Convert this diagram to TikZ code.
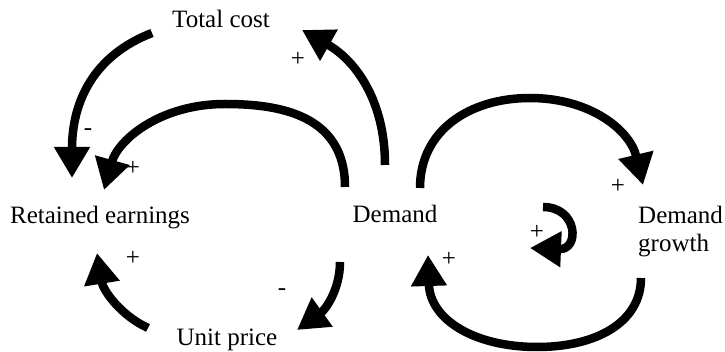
\documentclass[tikz,border=0pt]{standalone}
\usepackage{fontspec}
\setmainfont{Liberation Serif}
\usetikzlibrary{arrows.meta}
\tikzset{
  lbl/.style={inner sep=0pt, font=\fontsize{25}{28}\selectfont},
  sgn/.style={inner sep=0pt, anchor=base, font=\fontsize{25}{28}\selectfont},
  link/.style={line width=8.5pt, -{Triangle[length=31pt,width=34pt]}}
}
\begin{document}
\begin{tikzpicture}[x=1pt,y=-1pt]
\useasboundingbox (0,0) rectangle (725,352);
% variables
\node[lbl, anchor=base] (tc) at (221,28) {Total cost};
\node[lbl, anchor=base] (re) at (100,224) {Retained earnings};
\node[lbl, anchor=base] (dm) at (395,223) {Demand};
\node[lbl, anchor=base] (up) at (227,345) {Unit price};
\node[lbl, anchor=north west, align=left] (dg) at (638,205.5) {Demand\\growth};
% connector end points
\coordinate (tcA) at (152,33);   \coordinate (reA) at (72,178);
\coordinate (dmA) at (385,165);  \coordinate (tcB) at (302,30);
\coordinate (dmB) at (345,187);  \coordinate (reB) at (104,190);
\coordinate (upA) at (148,328);  \coordinate (reC) at (97,253);
\coordinate (dmC) at (340,262);  \coordinate (upB) at (297,330);
\coordinate (dmD) at (420,188);  \coordinate (dgA) at (643,185);
\coordinate (dgB) at (641,278);  \coordinate (dmE) at (428,255);
\coordinate (dgC) at (543,207);  \coordinate (dgD) at (530,248);
% connectors
\draw[link] (tcA) .. controls (95,55) and (72,100) .. (reA);
\draw[link] (dmA) .. controls (385,100) and (355,60) .. (tcB);
\draw[link] (dmB) .. controls (345,115) and (280,104) .. (225,104) .. controls (160,104) and (118,140) .. (reB);
\draw[link] (upA) .. controls (120,315) and (103,290) .. (reC);
\draw[link] (dmC) .. controls (340,290) and (325,310) .. (upB);
\draw[link] (dmD) .. controls (420,130) and (470,98) .. (530,98) .. controls (590,98) and (630,130) .. (dgA);
\draw[link] (dgB) .. controls (641,322) and (597,347) .. (537,347) .. controls (475,347) and (430,320) .. (dmE);
\draw[link] (dgC) .. controls (578,207) and (580,250) .. (dgD);
% polarity signs
\node[sgn] (s1) at (88,135.5) {-};
\node[sgn] (s2) at (298,67) {+};
\node[sgn] (s3) at (133,176) {+};
\node[sgn] (s4) at (133,266) {+};
\node[sgn] (s5) at (282,295.5) {-};
\node[sgn] (s6) at (618,194) {+};
\node[sgn] (s7) at (449,267) {+};
\node[sgn] (s8) at (537,240) {+};
\end{tikzpicture}
\end{document}
